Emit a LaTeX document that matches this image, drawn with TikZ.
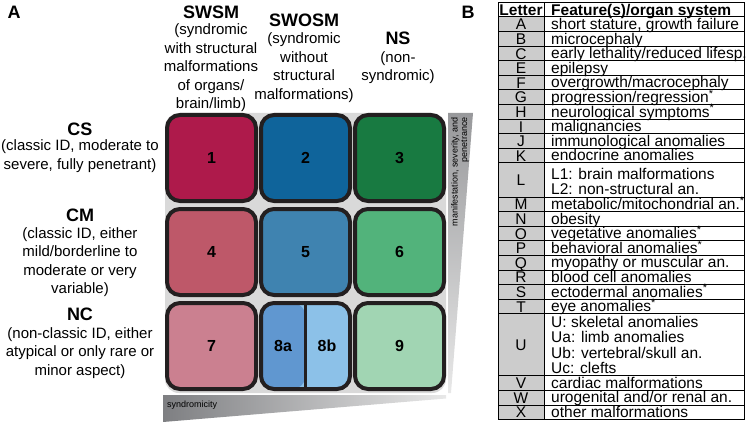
\documentclass[tikz,border=0pt]{standalone}
\usepackage{fontspec}
\setmainfont{Liberation Sans}
\usepackage{xcolor}
\usetikzlibrary{positioning}

\definecolor{tileline}{HTML}{231F20}
\definecolor{gapgray}{HTML}{D9D9D9}
\definecolor{lettergray}{HTML}{CCCCCC}
\definecolor{wedgedark}{HTML}{7E7F82}
\definecolor{wedgelight}{HTML}{E8E8E8}
\definecolor{cOne}{HTML}{AE1A4B}
\definecolor{cTwo}{HTML}{0F649B}
\definecolor{cThree}{HTML}{187A41}
\definecolor{cFour}{HTML}{BE5869}
\definecolor{cFive}{HTML}{3F83B0}
\definecolor{cSix}{HTML}{52B37B}
\definecolor{cSeven}{HTML}{CB8090}
\definecolor{cEightA}{HTML}{6097D0}
\definecolor{cEightB}{HTML}{8CC1E8}
\definecolor{cNine}{HTML}{A1D5B3}

\begin{document}
\begin{tikzpicture}[x=1pt, y=-1pt,
    num/.style={font=\fontsize{16}{16}\selectfont\bfseries, inner sep=0pt},
    tile/.style={num, draw=tileline, line width=4pt, rounded corners=13pt, minimum width=89pt, minimum height=86pt},
    head/.style={font=\fontsize{18}{18}\selectfont\bfseries, inner sep=0pt},
    desc/.style={font=\fontsize{15}{18.5}\selectfont, align=center, inner sep=0pt},
    letter/.style={font=\fontsize{15.5}{15.5}\selectfont, text height=11.1pt, text depth=0pt, inner sep=0pt},
    feat/.style={font=\fontsize{15.5}{15.5}\selectfont, align=left, anchor=base west, inner sep=0pt},
    wedge/.style={font=\fontsize{9}{9.5}\selectfont, inner sep=0pt}]
    \useasboundingbox (0,0) rectangle (746,422);

    % panel letters
    \node[head] (A) at (14,12) {A};
    \node[head] (B) at (468,12) {B};

    % column heads
    \node[head] (swsm) at (211,12) {SWSM};
    \node[desc] (swsmd) at (211,68) {(syndromic\\with structural\\malformations\\of organs/\\brain/limb)};
    \node[head] (swosm) at (304,20) {SWOSM};
    \node[desc] (swosmd) at (304,67.5) {(syndromic\\without\\structural\\malformations)};
    \node[head] (ns) at (398,38) {NS};
    \node[desc] (nsd) at (398,67.5) {(non-\\syndromic)};

    % row heads
    \node[head] (cs) at (80,129) {CS};
    \node[desc] (csd) at (80,156) {(classic ID, moderate to\\severe, fully penetrant)};
    \node[head] (cm) at (80,215) {CM};
    \node[desc] (cmd) at (80,262) {(classic ID, either\\mild/borderline to\\moderate or very\\variable)};
    \node[head] (nc) at (80,314) {NC};
    \node[desc] (ncd) at (80,353) {(non-classic ID, either\\atypical or only rare or\\minor aspect)};

    % grid
    \fill[gapgray, rounded corners=14pt] (165,113) rectangle (446,393);
    \node[tile, fill=cOne] (t1) at (211.5,158) {1};
    \node[tile, fill=cTwo] (t2) at (305.5,158) {2};
    \node[tile, fill=cThree] (t3) at (399.5,158) {3};
    \node[tile, fill=cFour] (t4) at (211.5,252) {4};
    \node[tile, fill=cFive] (t5) at (305.5,252) {5};
    \node[tile, fill=cSix] (t6) at (399.5,252) {6};
    \node[tile, fill=cSeven] (t7) at (211.5,346) {7};
    \node[tile, fill=cEightB, path picture={\fill[cEightA] (path picture bounding box.north west) rectangle (path picture bounding box.south);}] (t8) at (305.5,346) {};
    \node[tile, fill=cNine] (t9) at (399.5,346) {9};
    \draw[tileline, line width=3pt] (t8.north) -- (t8.south);
    \node[num] (l8a) at (283,346) {8a};
    \node[num] (l8b) at (327,346) {8b};

    % gradient wedges
    \shade[left color=wedgedark, right color=wedgelight] (163,395) -- (446,395) -- (446,398.5) -- (163,422) -- cycle;
    \node[wedge, anchor=west] (synd) at (167,405) {syndromicity};
    \shade[top color=wedgedark!80, bottom color=wedgelight] (448,113) -- (473,113) -- (451,393) -- (448,393) -- cycle;
    \node[wedge, rotate=90, anchor=east, align=right] (manif) at (460,117) {manifestation, severity, and\\penetrance};

    % table B
    \draw[line width=1pt] (498,3) rectangle (544,17);
    \draw[line width=1pt] (544,3) rectangle (744,17);
    \node[letter, font=\fontsize{15.5}{15.5}\selectfont\bfseries] (hLetter) at (521,10) {Letter};
    \node[feat, font=\fontsize{15.5}{15.5}\selectfont\bfseries] (hFeat) at (551,15.5) {Feature(s)/organ system};
    \foreach \ltr/\txt/\yy/\hh [count=\i] in {
        A/{short stature, growth failure}/17/14.6,
        B/{microcephaly}/31.6/14.6,
        C/{early lethality/reduced lifesp.}/46.2/14.6,
        E/{epilepsy}/60.8/14.6,
        F/{overgrowth/macrocephaly}/75.4/14.6,
        G/{progression/regression\textsuperscript{*}}/90/14.6,
        H/{neurological symptoms\textsuperscript{*}}/104.6/14.6,
        I/{malignancies}/119.2/14.6,
        J/{immunological anomalies}/133.8/14.6,
        K/{endocrine anomalies}/148.4/14.6,
        L/{L1: brain malformations\\L2: non-structural an.}/163/34,
        M/{metabolic/mitochondrial an.\textsuperscript{*}}/197/14.6,
        N/{obesity}/211.6/14.6,
        O/{vegetative anomalies\textsuperscript{*}}/226.2/14.6,
        P/{behavioral anomalies\textsuperscript{*}}/240.8/14.6,
        Q/{myopathy or muscular an.}/255.4/14.6,
        R/{blood cell anomalies}/270/14.6,
        S/{ectodermal anomalies\textsuperscript{*}}/284.6/14.6,
        T/{eye anomalies\textsuperscript{*}}/299.2/14.6,
        U/{U: skeletal anomalies\\Ua: limb anomalies\\Ub: vertebral/skull an.\\Uc: clefts}/313.8/62,
        V/{cardiac malformations}/375.8/14.6,
        W/{urogenital and/or renal an.}/390.4/14.6,
        X/{other malformations}/405/14.6} {
        \draw[line width=1pt, fill=lettergray] (498,\yy) rectangle (544,\yy+\hh);
        \draw[line width=1pt] (544,\yy) rectangle (744,\yy+\hh);
        \node[letter] (let\i) at (521,\yy+\hh/2) {\ltr};
        % base of a wrapped cell is its last line
        \node[feat] (feat\i) at (551,\yy+\hh-2.1) {\txt};
    }
\end{tikzpicture}
\end{document}
